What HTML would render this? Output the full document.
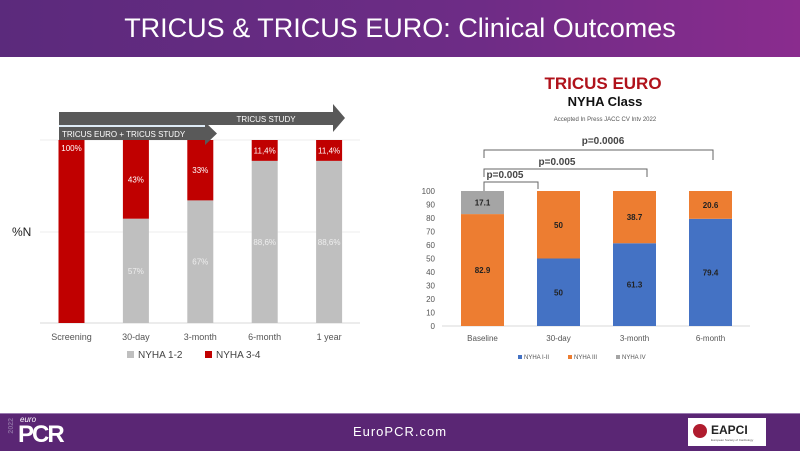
<!DOCTYPE html>
<html><head><meta charset="utf-8"><style>
body{margin:0;width:800px;height:450px;overflow:hidden;background:#fff;font-family:"Liberation Sans",sans-serif;position:relative}
.hdr{position:absolute;left:0;top:0;width:800px;height:57px;background:linear-gradient(90deg,#5b2a7c,#6e2c86 60%,#8a2c8e);color:#fff;font-size:27px;text-align:center;line-height:56px}
.ftr{position:absolute;left:0;top:413px;width:800px;height:37px;background:#5a2674;border-top:1px solid #9a7ab0}
</style></head><body>
<div class="hdr">TRICUS &amp; TRICUS EURO: Clinical Outcomes</div>
<svg width="800" height="450" style="position:absolute;left:0;top:0">
<g id="left"></g>
<g id="right"></g>
</svg>
<div class="ftr">
<div style="position:absolute;left:8px;top:4px;color:#8a6aa0;font-size:7px;writing-mode:vertical-rl;transform:rotate(180deg);font-weight:bold">2022</div>
<div style="position:absolute;left:20px;top:1px;color:#fff;font-size:8px;font-style:italic">euro</div>
<div style="position:absolute;left:18px;top:8px;color:#fff;font-size:24px;font-weight:bold;letter-spacing:-2px;line-height:26px">PCR</div>
<div style="position:absolute;left:0;width:800px;top:10px;text-align:center;color:#fff;font-size:13px;letter-spacing:1px">EuroPCR.com</div>
<div style="position:absolute;left:688px;top:4px;width:78px;height:28px;background:#fff">
<div style="position:absolute;left:5px;top:6px;width:14px;height:14px;border-radius:50%;background:#b01c2e"></div>
<div style="position:absolute;left:23px;top:5px;font-size:12px;font-weight:bold;color:#222">EAPCI</div>
<div style="position:absolute;left:23px;top:20px;font-size:3px;color:#555">European Society of Cardiology</div>
</div>
</div>
<script>
const NS='http://www.w3.org/2000/svg';
function mk(p,t,a,txt){const e=document.createElementNS(NS,t);for(const k in a)e.setAttribute(k,a[k]);if(txt!==undefined)e.textContent=txt;p.appendChild(e);return e;}
// LEFT
const lCats=['Screening','30-day','3-month','6-month','1 year'];
const lLow=[0,57,67,88.6,88.6];
const lHigh=[100,43,33,11.4,11.4];
const lLowLbl=['','57%','67%','88,6%','88,6%'];
const lHighLbl=['100%','43%','33%','11,4%','11,4%'];
const L=document.getElementById('left');
const ly=v=>323-v*1.83, lx=i=>71.5+i*64.4;
mk(L,'line',{x1:40,x2:360,y1:140,y2:140,stroke:'#eee'});
mk(L,'line',{x1:40,x2:360,y1:232,y2:232,stroke:'#eee'});
mk(L,'line',{x1:40,x2:360,y1:323,y2:323,stroke:'#d9d9d9'});
mk(L,'text',{x:12,y:236,'font-size':12,fill:'#222'},'%N');
lCats.forEach((c,i)=>{
 let r;
 r=mk(L,'rect',{x:lx(i)-13,y:ly(lLow[i]),width:26,height:323-ly(lLow[i]),fill:'#bfbfbf'});
 
 r=mk(L,'rect',{x:lx(i)-13,y:ly(lLow[i]+lHigh[i]),width:26,height:ly(lLow[i])-ly(lLow[i]+lHigh[i]),fill:'#c00000'});
 
 if(lLowLbl[i])mk(L,'text',{x:lx(i),y:ly(lLow[i]/2)+3,'font-size':8,fill:'#eee','text-anchor':'middle'},lLowLbl[i]);
 mk(L,'text',{x:lx(i),y:(i==0?ly(100)+11:ly(lLow[i]+lHigh[i]/2)+3),'font-size':8,fill:'#fff','text-anchor':'middle'},lHighLbl[i]);
 mk(L,'text',{x:lx(i),y:340,'font-size':9,fill:'#555','text-anchor':'middle'},c);
});
mk(L,'polygon',{points:'59,112 333,112 333,104 345,118 333,132 333,125 59,125',fill:'#595959'});
mk(L,'text',{x:266,y:122,'font-size':8,fill:'#fff','text-anchor':'middle'},'TRICUS STUDY');
mk(L,'line',{x1:59,x2:205,y1:126,y2:126,stroke:'#bdd7ee','stroke-width':1});
mk(L,'polygon',{points:'59,127 205,127 205,122 217,133.5 205,145 205,140 59,140',fill:'#595959'});
mk(L,'text',{x:62,y:137,'font-size':8,fill:'#fff'},'TRICUS EURO + TRICUS STUDY');
mk(L,'rect',{x:127,y:351,width:7,height:7,fill:'#bfbfbf'});
mk(L,'text',{x:138,y:358,'font-size':10,fill:'#444'},'NYHA 1-2');
mk(L,'rect',{x:205,y:351,width:7,height:7,fill:'#c00000'});
mk(L,'text',{x:216,y:358,'font-size':10,fill:'#444'},'NYHA 3-4');
// RIGHT
const rCats=['Baseline','30-day','3-month','6-month'];
const rI=[0,50,61.3,79.4];
const rIII=[82.9,50,38.7,20.6];
const rIV=[17.1,0,0,0];
const rTicks=[0,10,20,30,40,50,60,70,80,90,100];
const R=document.getElementById('right');
const ry=v=>326-v*1.35, rx=i=>482.5+i*76;
mk(R,'line',{x1:442,x2:750,y1:326,y2:326,stroke:'#d9d9d9'});
rTicks.forEach(t=>mk(R,'text',{x:435,y:ry(t)+3,'font-size':8,fill:'#555','text-anchor':'end'},t));
const cols=['#4472c4','#ed7d31','#a5a5a5'];
rCats.forEach((c,i)=>{
 let base=0;[rI,rIII,rIV].forEach((s,k)=>{const v=s[i];if(!v)return;
  const r=mk(R,'rect',{x:rx(i)-21.5,y:ry(base+v),width:43,height:ry(base)-ry(base+v),fill:cols[k]});
  
  mk(R,'text',{x:rx(i),y:ry(base+v/2)+3,'font-size':8,'font-weight':'bold',fill:'#222','text-anchor':'middle'},v);
  base+=v;});
 mk(R,'text',{x:rx(i),y:341,'font-size':8,fill:'#555','text-anchor':'middle'},c);
});
mk(R,'text',{x:603,y:89,'font-size':17,'font-weight':'bold',fill:'#b0121b','text-anchor':'middle'},'TRICUS EURO');
mk(R,'text',{x:605,y:106,'font-size':13,'font-weight':'bold',fill:'#111','text-anchor':'middle'},'NYHA Class');
mk(R,'text',{x:605,y:121,'font-size':6,fill:'#555','text-anchor':'middle'},'Accepted  In Press JACC CV Intv 2022');
const br=[['p=0.0006',150,713,160,603,144],['p=0.005',169,647,177,557,165],['p=0.005',182,538,189,505,178]];
br.forEach(b=>{mk(R,'path',{d:`M484,${b[1]+8} V${b[1]} H${b[2]} V${b[3]}`,fill:'none',stroke:'#666','stroke-width':1});
 mk(R,'text',{x:b[4],y:b[5],'font-size':10,'font-weight':'bold',fill:'#444','text-anchor':'middle'},b[0]);});
mk(R,'line',{x1:484,x2:484,y1:182,y2:191,stroke:'#666'});
[['NYHA I-II',518],['NYHA III',568],['NYHA IV',616]].forEach((l,k)=>{mk(R,'rect',{x:l[1],y:355,width:4,height:4,fill:cols[k]});mk(R,'text',{x:l[1]+6,y:359,'font-size':6,fill:'#555'},l[0]);});
</script>
</body></html>
